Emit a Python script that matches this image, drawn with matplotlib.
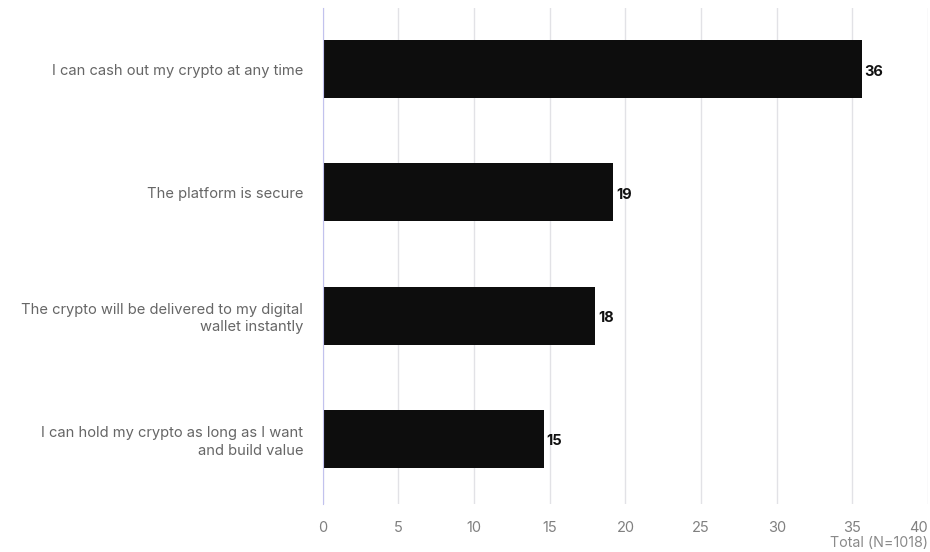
import matplotlib.pyplot as plt

categories = [
    "I can cash out my crypto at any time",
    "The platform is secure",
    "The crypto will be delivered to my digital\nwallet instantly",
    "I can hold my crypto as long as I want\nand build value",
]
values = [35.6, 19.2, 18.0, 14.6]
xticks = [0, 5, 10, 15, 20, 25, 30, 35, 40]

plt.rcParams["font.family"] = ["Inter", "DejaVu Sans"]

fig = plt.figure(figsize=(9.3, 5.52), dpi=100)
ax = fig.add_axes([0.347, 0.087, 0.651, 0.899])

ypos = list(range(len(categories)))[::-1]
ax.barh(ypos, values, height=0.47, color="#0d0d0d", zorder=3)

for y, v in zip(ypos, values):
    ax.text(v + 0.2, y - 0.02, f"{v:.0f}", va="center", ha="left",
            fontsize=10.5, fontweight="bold", color="#111111", zorder=4)

ax.set_xlim(0, 40)
ax.set_ylim(-0.53, 3.5)
ax.set_xticks(xticks)
ax.set_yticks(ypos)
ax.set_yticklabels(categories, fontsize=10.6, color="#666666", linespacing=1.3)
ax.tick_params(axis="y", length=0, pad=14)
ax.tick_params(axis="x", length=0, pad=12, labelsize=10.5, labelcolor="#808080")
# last tick label sits at the right edge, keep it inside
ax.get_xticklabels()[-1].set_horizontalalignment("right")

ax.grid(axis="x", color="#e2e2e6", linewidth=1, zorder=0)
for s in ["top", "right", "bottom"]:
    ax.spines[s].set_visible(False)
ax.spines["left"].set_color("#c2c2ee")
ax.spines["left"].set_zorder(5)

fig.text(0.998, 0.003, "Total (N=1018)", ha="right", va="bottom",
         fontsize=10.3, color="#8a8a8a")

fig.savefig("out.png", dpi=100)
